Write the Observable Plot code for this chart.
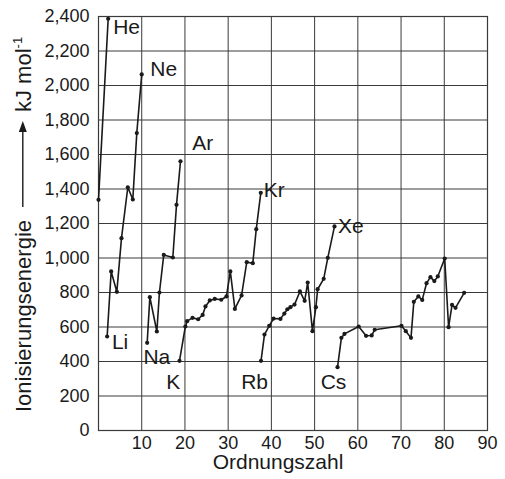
<!DOCTYPE html>
<html>
<head>
<meta charset="utf-8">
<script src="https://cdn.jsdelivr.net/npm/d3@7"></script>
<script src="https://cdn.jsdelivr.net/npm/@observablehq/plot@0.6"></script>
<style>
  html, body { margin: 0; padding: 0; background: #fff; }
  svg { display: block; }
</style>
</head>
<body>
<div id="chart"></div>
<script>
// Ordnungszahl (x positions as drawn) and first ionisation energy (kJ/mol)
const ordnungszahl = [
  0, 2.24,
  2.0, 2.93, 4.24, 5.32, 6.78, 7.94, 8.86, 10.0,
  11.26, 11.88, 13.5, 14.1, 15.1, 17.2, 18.05, 18.97,
  18.74, 20.1, 20.5, 21.75, 23.06, 24.1, 24.75, 25.75, 26.9, 28.4, 29.6, 30.5, 31.55, 33.1, 34.3, 35.7, 36.5, 37.55,
  37.6, 38.4, 39.5, 40.5, 42.1, 43.0, 43.7, 44.4, 45.35, 46.6, 47.7, 48.4, 49.5, 50.3, 50.7, 52.1, 53.05, 54.6,
  55.3, 56.2, 56.9, 60.2, 61.9, 63.2, 63.9, 70.1, 71.1, 72.3, 72.95, 74.0, 74.9, 75.9, 76.8, 77.7, 78.5, 80.1, 81.0, 81.8, 82.6, 84.6
];
const energie = [
  1337, 2387,
  545, 922, 804, 1115, 1410, 1339, 1724, 2064,
  508, 773, 574, 800, 1018, 1003, 1308, 1561,
  404, 603, 634, 653, 645, 670, 719, 754, 763, 758, 777, 922, 705, 783, 976, 970, 1167, 1378,
  404, 556, 607, 649, 647, 678, 703, 715, 730, 806, 752, 858, 576, 715, 819, 879, 1001, 1183,
  367, 537, 560, 603, 549, 551, 584, 607, 576, 537, 746, 777, 757, 854, 889, 866, 893, 997, 599, 728, 711, 798
];
const periode = [
  1, 1,
  2, 2, 2, 2, 2, 2, 2, 2,
  3, 3, 3, 3, 3, 3, 3, 3,
  4, 4, 4, 4, 4, 4, 4, 4, 4, 4, 4, 4, 4, 4, 4, 4, 4, 4,
  5, 5, 5, 5, 5, 5, 5, 5, 5, 5, 5, 5, 5, 5, 5, 5, 5, 5,
  6, 6, 6, 6, 6, 6, 6, 6, 6, 6, 6, 6, 6, 6, 6, 6, 6, 6, 6, 6, 6, 6
];
// element labels (in data units)
const labelText = ["He", "Ne", "Ar", "Kr", "Xe", "Li", "Na", "K", "Rb", "Cs"];
const labelX = [3.4, 12.0, 21.7, 38.25, 55.4, 3.1, 10.4, 15.7, 33.0, 51.4];
const labelY = [2339, 2096, 1664, 1391, 1183, 512, 424, 278, 278, 278];
const xTicks = [10, 20, 30, 40, 50, 60, 70, 80, 90];
const yTicks = [0, 200, 400, 600, 800, 1000, 1200, 1400, 1600, 1800, 2000, 2200, 2400];
const xTitle = "Ordnungszahl";
const yTitle = "Ionisierungsenergie";
const yUnit = "kJ mol";
const yUnitSup = "-1";

const data = ordnungszahl.map((x, i) => ({x, y: energie[i], p: periode[i]}));
const labels = labelText.map((t, i) => ({t, x: labelX[i], y: labelY[i]}));

const font = "'Liberation Sans', Arial, Helvetica, sans-serif";
const ink = "#1a1a1a";
const gridColor = "#3a3a3a";

const chart = Plot.plot({
  width: 505,
  height: 479,
  marginLeft: 98,
  marginRight: 18,
  marginTop: 16,
  marginBottom: 49,
  style: {fontFamily: font, fontSize: "18px", color: ink, background: "#fff", overflow: "visible"},
  x: {domain: [0, 90], label: null},
  y: {domain: [0, 2400], label: null},
  marks: [
    Plot.gridX(xTicks, {stroke: gridColor, strokeOpacity: 1, strokeWidth: 1}),
    Plot.gridY(yTicks, {stroke: gridColor, strokeOpacity: 1, strokeWidth: 1}),
    Plot.frame({stroke: gridColor, strokeWidth: 1.2}),
    Plot.line(data, {x: "x", y: "y", z: "p", stroke: ink, strokeWidth: 1.6}),
    Plot.dot(data, {x: "x", y: "y", r: 2.1, fill: ink, stroke: "none"}),
    Plot.text(labels, {x: "x", y: "y", text: "t", textAnchor: "start", fontSize: 21, fill: ink}),
    Plot.axisX({ticks: xTicks, tickSize: 0, tickPadding: 6, fontSize: 18, label: null}),
    Plot.axisY({ticks: yTicks, tickSize: 0, tickPadding: 9, fontSize: 18, label: null}),
    Plot.text([xTitle], {frameAnchor: "bottom", dx: -15, dy: 38, fontSize: 21, fill: ink})
  ]
});

document.getElementById("chart").appendChild(chart);

// rotated y-axis title with arrow
const svg = d3.select(chart);
const g = svg.append("g").attr("fill", ink).attr("font-family", font).attr("font-size", 22);
g.append("text")
  .attr("transform", "translate(30.5,412) rotate(-90)")
  .attr("text-anchor", "start")
  .text(yTitle);
const ax = 22.8;
g.append("line")
  .attr("x1", ax).attr("x2", ax).attr("y1", 207).attr("y2", 130)
  .attr("stroke", ink).attr("stroke-width", 1.4);
g.append("path")
  .attr("d", `M${ax},121 L${ax - 4},132 L${ax + 4},132 Z`)
  .attr("fill", ink);
const unit = g.append("text")
  .attr("transform", "translate(30.5,112) rotate(-90)")
  .attr("text-anchor", "start");
unit.append("tspan").text(yUnit);
unit.append("tspan").attr("font-size", 13).attr("dy", -9).text(yUnitSup);
</script>
</body>
</html>
